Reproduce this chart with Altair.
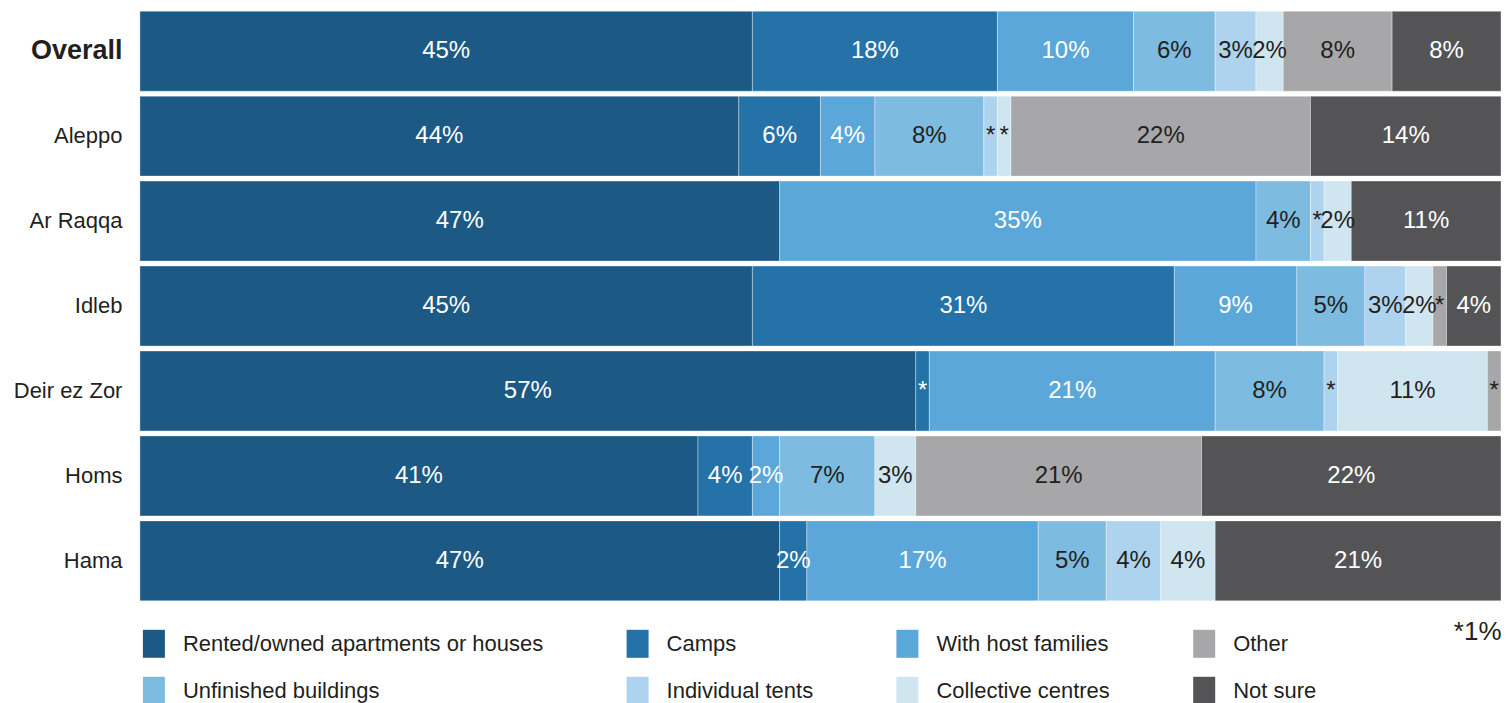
import altair as alt
import pandas as pd

regions = ["Overall", "Aleppo", "Ar Raqqa", "Idleb", "Deir ez Zor", "Homs", "Hama"]
categories = [
    "Rented/owned apartments or houses",
    "Camps",
    "With host families",
    "Other",
    "Unfinished buildings",
    "Individual tents",
    "Collective centres",
    "Not sure",
]
stack_order = [
    "Rented/owned apartments or houses",
    "Camps",
    "With host families",
    "Unfinished buildings",
    "Individual tents",
    "Collective centres",
    "Other",
    "Not sure",
]
colors = {
    "Rented/owned apartments or houses": "#1c5a85",
    "Camps": "#2472a8",
    "With host families": "#5ba7da",
    "Unfinished buildings": "#7dbbe0",
    "Individual tents": "#aed3ee",
    "Collective centres": "#cfe5f0",
    "Other": "#a7a7a9",
    "Not sure": "#545456",
}

rented = [45, 44, 47, 45, 57, 41, 47]
camps = [18, 6, 0, 31, 1, 4, 2]
host = [10, 4, 35, 9, 21, 2, 17]
unfinished = [6, 8, 4, 5, 8, 7, 5]
tents = [3, 1, 1, 3, 1, 0, 4]
collective = [2, 1, 2, 2, 11, 3, 4]
other = [8, 22, 0, 1, 1, 21, 0]
notsure = [8, 14, 11, 4, 0, 22, 21]

series = {
    "Rented/owned apartments or houses": rented,
    "Camps": camps,
    "With host families": host,
    "Unfinished buildings": unfinished,
    "Individual tents": tents,
    "Collective centres": collective,
    "Other": other,
    "Not sure": notsure,
}

rows = []
for cat in stack_order:
    for r, v in zip(regions, series[cat]):
        if v > 0:
            rows.append({
                "region": r,
                "category": cat,
                "order": stack_order.index(cat),
                "value": v,
                "label": f"{v}%" if v > 1 else "*",
            })
df = pd.DataFrame(rows)

FONT = "Liberation Sans"
TXT = "#231f20"

xaxis = alt.Axis(
    title="*1%", labels=False, ticks=False, domain=False, grid=False,
    titleAnchor="end", titleFontSize=26, titleFontWeight="normal",
    titleColor=TXT, titlePadding=18, titleFont=FONT,
)

yenc = alt.Y(
    "region:N", sort=regions, title=None,
    scale=alt.Scale(paddingInner=5 / 85, paddingOuter=0),
    axis=alt.Axis(
        domain=False, ticks=False, labelPadding=18, minExtent=132, maxExtent=132,
        labelFont=FONT, labelColor=TXT, labelLimit=130,
        labelFontSize=alt.ExprRef(expr="datum.value == 'Overall' ? 27 : 22"),
        labelFontWeight=alt.ExprRef(expr="datum.value == 'Overall' ? 'bold' : 'normal'"),
    ),
)

base = alt.Chart(df).transform_stack(
    stack="value", groupby=["region"], sort=[alt.SortField("order")], as_=["x0", "x1"]
).transform_calculate(mid="(datum.x0 + datum.x1) / 2")

bars = base.mark_bar(stroke="white", strokeWidth=0.5, strokeOpacity=0.7).encode(
    y=yenc,
    x=alt.X("x0:Q", scale=alt.Scale(domain=[0, 100], nice=False, zero=True), axis=xaxis),
    x2="x1:Q",
    color=alt.Color(
        "category:N",
        scale=alt.Scale(domain=categories, range=[colors[c] for c in categories]),
        legend=alt.Legend(
            title=None, orient="none", legendX=0, legendY=619, columns=4,
            direction="horizontal",
            symbolType="M-0.786,-1H0.786V1H-0.786Z", symbolSize=784,
            symbolStrokeWidth=0, symbolOpacity=1,
            labelFont=FONT, labelFontSize=22, labelColor=TXT, labelOffset=15,
            columnPadding=80, rowPadding=19, padding=0, labelLimit=500,
        ),
    ),
)

dark_cats = "['Unfinished buildings','Individual tents','Collective centres','Other']"
text = base.mark_text(font=FONT, fontSize=24, baseline="middle", align="center").encode(
    y=yenc,
    x=alt.X("mid:Q", axis=xaxis),
    text="label:N",
    color=alt.condition(f"indexof({dark_cats}, datum.category) >= 0",
                        alt.value(TXT), alt.value("white")),
)

chart = alt.layer(bars, text).properties(
    width=1362, height=590,
    padding={"left": 0, "top": 2, "right": 0, "bottom": 0},
).configure_view(stroke=None)

chart.save("out.html", embed_options={"renderer": "svg", "actions": False})
